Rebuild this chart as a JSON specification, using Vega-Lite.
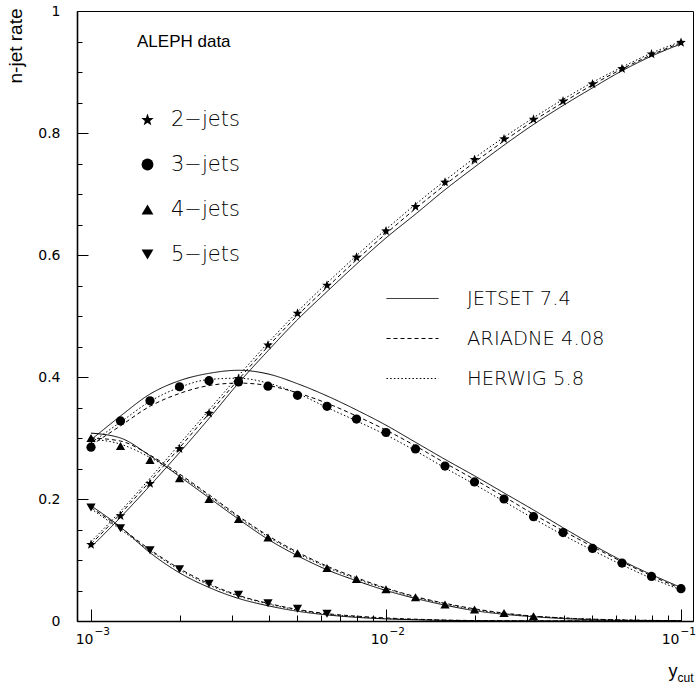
{
  "$schema": "https://vega.github.io/schema/vega-lite/v6.json",
  "width": 616,
  "height": 610,
  "autosize": {"type": "none"},
  "padding": {"left": 77, "top": 11, "right": 5, "bottom": 62},
  "background": "white",
  "config": {
    "view": {"stroke": "black", "strokeWidth": 1},
    "axis": {"grid": false, "domainColor": "black", "domainWidth": 1.6, "tickColor": "black", "tickWidth": 1, "labelColor": "black", "titleColor": "black", "labelOverlap": false},
    "legend": {"padding": 0, "labelColor": "black", "titleColor": "black"}
  },
  "resolve": {"axis": {"x": "independent", "y": "independent"}},
  "datasets": {
    "aleph": [
      {"ycut": 0.001, "rate": 0.126, "jets": "2−jets"},
      {"ycut": 0.0012589, "rate": 0.173, "jets": "2−jets"},
      {"ycut": 0.0015849, "rate": 0.226, "jets": "2−jets"},
      {"ycut": 0.0019953, "rate": 0.283, "jets": "2−jets"},
      {"ycut": 0.0025119, "rate": 0.341, "jets": "2−jets"},
      {"ycut": 0.0031623, "rate": 0.398, "jets": "2−jets"},
      {"ycut": 0.0039811, "rate": 0.453, "jets": "2−jets"},
      {"ycut": 0.0050119, "rate": 0.505, "jets": "2−jets"},
      {"ycut": 0.0063096, "rate": 0.551, "jets": "2−jets"},
      {"ycut": 0.0079433, "rate": 0.597, "jets": "2−jets"},
      {"ycut": 0.01, "rate": 0.640, "jets": "2−jets"},
      {"ycut": 0.012589, "rate": 0.680, "jets": "2−jets"},
      {"ycut": 0.015849, "rate": 0.720, "jets": "2−jets"},
      {"ycut": 0.019953, "rate": 0.757, "jets": "2−jets"},
      {"ycut": 0.025119, "rate": 0.791, "jets": "2−jets"},
      {"ycut": 0.031623, "rate": 0.823, "jets": "2−jets"},
      {"ycut": 0.039811, "rate": 0.853, "jets": "2−jets"},
      {"ycut": 0.050119, "rate": 0.881, "jets": "2−jets"},
      {"ycut": 0.063096, "rate": 0.906, "jets": "2−jets"},
      {"ycut": 0.079433, "rate": 0.930, "jets": "2−jets"},
      {"ycut": 0.1, "rate": 0.949, "jets": "2−jets"},
      {"ycut": 0.001, "rate": 0.285, "jets": "3−jets"},
      {"ycut": 0.0012589, "rate": 0.328, "jets": "3−jets"},
      {"ycut": 0.0015849, "rate": 0.361, "jets": "3−jets"},
      {"ycut": 0.0019953, "rate": 0.384, "jets": "3−jets"},
      {"ycut": 0.0025119, "rate": 0.394, "jets": "3−jets"},
      {"ycut": 0.0031623, "rate": 0.392, "jets": "3−jets"},
      {"ycut": 0.0039811, "rate": 0.385, "jets": "3−jets"},
      {"ycut": 0.0050119, "rate": 0.370, "jets": "3−jets"},
      {"ycut": 0.0063096, "rate": 0.352, "jets": "3−jets"},
      {"ycut": 0.0079433, "rate": 0.331, "jets": "3−jets"},
      {"ycut": 0.01, "rate": 0.309, "jets": "3−jets"},
      {"ycut": 0.012589, "rate": 0.282, "jets": "3−jets"},
      {"ycut": 0.015849, "rate": 0.254, "jets": "3−jets"},
      {"ycut": 0.019953, "rate": 0.228, "jets": "3−jets"},
      {"ycut": 0.025119, "rate": 0.200, "jets": "3−jets"},
      {"ycut": 0.031623, "rate": 0.171, "jets": "3−jets"},
      {"ycut": 0.039811, "rate": 0.145, "jets": "3−jets"},
      {"ycut": 0.050119, "rate": 0.119, "jets": "3−jets"},
      {"ycut": 0.063096, "rate": 0.095, "jets": "3−jets"},
      {"ycut": 0.079433, "rate": 0.073, "jets": "3−jets"},
      {"ycut": 0.1, "rate": 0.053, "jets": "3−jets"},
      {"ycut": 0.001, "rate": 0.300, "jets": "4−jets"},
      {"ycut": 0.0012589, "rate": 0.287, "jets": "4−jets"},
      {"ycut": 0.0015849, "rate": 0.264, "jets": "4−jets"},
      {"ycut": 0.0019953, "rate": 0.234, "jets": "4−jets"},
      {"ycut": 0.0025119, "rate": 0.200, "jets": "4−jets"},
      {"ycut": 0.0031623, "rate": 0.167, "jets": "4−jets"},
      {"ycut": 0.0039811, "rate": 0.137, "jets": "4−jets"},
      {"ycut": 0.0050119, "rate": 0.111, "jets": "4−jets"},
      {"ycut": 0.0063096, "rate": 0.087, "jets": "4−jets"},
      {"ycut": 0.0079433, "rate": 0.069, "jets": "4−jets"},
      {"ycut": 0.01, "rate": 0.052, "jets": "4−jets"},
      {"ycut": 0.012589, "rate": 0.039, "jets": "4−jets"},
      {"ycut": 0.015849, "rate": 0.027, "jets": "4−jets"},
      {"ycut": 0.019953, "rate": 0.019, "jets": "4−jets"},
      {"ycut": 0.025119, "rate": 0.013, "jets": "4−jets"},
      {"ycut": 0.031623, "rate": 0.008, "jets": "4−jets"},
      {"ycut": 0.001, "rate": 0.186, "jets": "5−jets"},
      {"ycut": 0.0012589, "rate": 0.152, "jets": "5−jets"},
      {"ycut": 0.0015849, "rate": 0.116, "jets": "5−jets"},
      {"ycut": 0.0019953, "rate": 0.085, "jets": "5−jets"},
      {"ycut": 0.0025119, "rate": 0.061, "jets": "5−jets"},
      {"ycut": 0.0031623, "rate": 0.043, "jets": "5−jets"},
      {"ycut": 0.0039811, "rate": 0.029, "jets": "5−jets"},
      {"ycut": 0.0050119, "rate": 0.020, "jets": "5−jets"},
      {"ycut": 0.0063096, "rate": 0.012, "jets": "5−jets"}
    ],
    "models": [
      {"ycut": 0.001, "rate": 0.121, "model": "JETSET 7.4", "jets": "2"},
      {"ycut": 0.0012589, "rate": 0.170, "model": "JETSET 7.4", "jets": "2"},
      {"ycut": 0.0015849, "rate": 0.222, "model": "JETSET 7.4", "jets": "2"},
      {"ycut": 0.0019953, "rate": 0.276, "model": "JETSET 7.4", "jets": "2"},
      {"ycut": 0.0025119, "rate": 0.332, "model": "JETSET 7.4", "jets": "2"},
      {"ycut": 0.0031623, "rate": 0.390, "model": "JETSET 7.4", "jets": "2"},
      {"ycut": 0.0039811, "rate": 0.443, "model": "JETSET 7.4", "jets": "2"},
      {"ycut": 0.0050119, "rate": 0.494, "model": "JETSET 7.4", "jets": "2"},
      {"ycut": 0.0063096, "rate": 0.540, "model": "JETSET 7.4", "jets": "2"},
      {"ycut": 0.0079433, "rate": 0.585, "model": "JETSET 7.4", "jets": "2"},
      {"ycut": 0.01, "rate": 0.628, "model": "JETSET 7.4", "jets": "2"},
      {"ycut": 0.012589, "rate": 0.667, "model": "JETSET 7.4", "jets": "2"},
      {"ycut": 0.015849, "rate": 0.707, "model": "JETSET 7.4", "jets": "2"},
      {"ycut": 0.019953, "rate": 0.744, "model": "JETSET 7.4", "jets": "2"},
      {"ycut": 0.025119, "rate": 0.780, "model": "JETSET 7.4", "jets": "2"},
      {"ycut": 0.031623, "rate": 0.814, "model": "JETSET 7.4", "jets": "2"},
      {"ycut": 0.039811, "rate": 0.845, "model": "JETSET 7.4", "jets": "2"},
      {"ycut": 0.050119, "rate": 0.874, "model": "JETSET 7.4", "jets": "2"},
      {"ycut": 0.063096, "rate": 0.902, "model": "JETSET 7.4", "jets": "2"},
      {"ycut": 0.079433, "rate": 0.926, "model": "JETSET 7.4", "jets": "2"},
      {"ycut": 0.1, "rate": 0.946, "model": "JETSET 7.4", "jets": "2"},
      {"ycut": 0.001, "rate": 0.297, "model": "JETSET 7.4", "jets": "3"},
      {"ycut": 0.0012589, "rate": 0.336, "model": "JETSET 7.4", "jets": "3"},
      {"ycut": 0.0015849, "rate": 0.372, "model": "JETSET 7.4", "jets": "3"},
      {"ycut": 0.0019953, "rate": 0.394, "model": "JETSET 7.4", "jets": "3"},
      {"ycut": 0.0025119, "rate": 0.406, "model": "JETSET 7.4", "jets": "3"},
      {"ycut": 0.0031623, "rate": 0.411, "model": "JETSET 7.4", "jets": "3"},
      {"ycut": 0.0039811, "rate": 0.405, "model": "JETSET 7.4", "jets": "3"},
      {"ycut": 0.0050119, "rate": 0.389, "model": "JETSET 7.4", "jets": "3"},
      {"ycut": 0.0063096, "rate": 0.369, "model": "JETSET 7.4", "jets": "3"},
      {"ycut": 0.0079433, "rate": 0.346, "model": "JETSET 7.4", "jets": "3"},
      {"ycut": 0.01, "rate": 0.321, "model": "JETSET 7.4", "jets": "3"},
      {"ycut": 0.012589, "rate": 0.293, "model": "JETSET 7.4", "jets": "3"},
      {"ycut": 0.015849, "rate": 0.265, "model": "JETSET 7.4", "jets": "3"},
      {"ycut": 0.019953, "rate": 0.238, "model": "JETSET 7.4", "jets": "3"},
      {"ycut": 0.025119, "rate": 0.210, "model": "JETSET 7.4", "jets": "3"},
      {"ycut": 0.031623, "rate": 0.182, "model": "JETSET 7.4", "jets": "3"},
      {"ycut": 0.039811, "rate": 0.153, "model": "JETSET 7.4", "jets": "3"},
      {"ycut": 0.050119, "rate": 0.125, "model": "JETSET 7.4", "jets": "3"},
      {"ycut": 0.063096, "rate": 0.099, "model": "JETSET 7.4", "jets": "3"},
      {"ycut": 0.079433, "rate": 0.076, "model": "JETSET 7.4", "jets": "3"},
      {"ycut": 0.1, "rate": 0.055, "model": "JETSET 7.4", "jets": "3"},
      {"ycut": 0.001, "rate": 0.308, "model": "JETSET 7.4", "jets": "4"},
      {"ycut": 0.0012589, "rate": 0.300, "model": "JETSET 7.4", "jets": "4"},
      {"ycut": 0.0015849, "rate": 0.271, "model": "JETSET 7.4", "jets": "4"},
      {"ycut": 0.0019953, "rate": 0.237, "model": "JETSET 7.4", "jets": "4"},
      {"ycut": 0.0025119, "rate": 0.202, "model": "JETSET 7.4", "jets": "4"},
      {"ycut": 0.0031623, "rate": 0.167, "model": "JETSET 7.4", "jets": "4"},
      {"ycut": 0.0039811, "rate": 0.134, "model": "JETSET 7.4", "jets": "4"},
      {"ycut": 0.0050119, "rate": 0.107, "model": "JETSET 7.4", "jets": "4"},
      {"ycut": 0.0063096, "rate": 0.084, "model": "JETSET 7.4", "jets": "4"},
      {"ycut": 0.0079433, "rate": 0.066, "model": "JETSET 7.4", "jets": "4"},
      {"ycut": 0.01, "rate": 0.050, "model": "JETSET 7.4", "jets": "4"},
      {"ycut": 0.012589, "rate": 0.037, "model": "JETSET 7.4", "jets": "4"},
      {"ycut": 0.015849, "rate": 0.026, "model": "JETSET 7.4", "jets": "4"},
      {"ycut": 0.019953, "rate": 0.017, "model": "JETSET 7.4", "jets": "4"},
      {"ycut": 0.025119, "rate": 0.011, "model": "JETSET 7.4", "jets": "4"},
      {"ycut": 0.031623, "rate": 0.007, "model": "JETSET 7.4", "jets": "4"},
      {"ycut": 0.039811, "rate": 0.004, "model": "JETSET 7.4", "jets": "4"},
      {"ycut": 0.050119, "rate": 0.002, "model": "JETSET 7.4", "jets": "4"},
      {"ycut": 0.063096, "rate": 0.001, "model": "JETSET 7.4", "jets": "4"},
      {"ycut": 0.079433, "rate": 0.0005, "model": "JETSET 7.4", "jets": "4"},
      {"ycut": 0.1, "rate": 0.0002, "model": "JETSET 7.4", "jets": "4"},
      {"ycut": 0.001, "rate": 0.189, "model": "JETSET 7.4", "jets": "5"},
      {"ycut": 0.0012589, "rate": 0.154, "model": "JETSET 7.4", "jets": "5"},
      {"ycut": 0.0015849, "rate": 0.112, "model": "JETSET 7.4", "jets": "5"},
      {"ycut": 0.0019953, "rate": 0.079, "model": "JETSET 7.4", "jets": "5"},
      {"ycut": 0.0025119, "rate": 0.055, "model": "JETSET 7.4", "jets": "5"},
      {"ycut": 0.0031623, "rate": 0.037, "model": "JETSET 7.4", "jets": "5"},
      {"ycut": 0.0039811, "rate": 0.025, "model": "JETSET 7.4", "jets": "5"},
      {"ycut": 0.0050119, "rate": 0.016, "model": "JETSET 7.4", "jets": "5"},
      {"ycut": 0.0063096, "rate": 0.010, "model": "JETSET 7.4", "jets": "5"},
      {"ycut": 0.0079433, "rate": 0.006, "model": "JETSET 7.4", "jets": "5"},
      {"ycut": 0.01, "rate": 0.0035, "model": "JETSET 7.4", "jets": "5"},
      {"ycut": 0.012589, "rate": 0.002, "model": "JETSET 7.4", "jets": "5"},
      {"ycut": 0.015849, "rate": 0.001, "model": "JETSET 7.4", "jets": "5"},
      {"ycut": 0.019953, "rate": 0.0005, "model": "JETSET 7.4", "jets": "5"},
      {"ycut": 0.025119, "rate": 0.0002, "model": "JETSET 7.4", "jets": "5"},
      {"ycut": 0.031623, "rate": 0.0001, "model": "JETSET 7.4", "jets": "5"},
      {"ycut": 0.039811, "rate": 0, "model": "JETSET 7.4", "jets": "5"},
      {"ycut": 0.050119, "rate": 0, "model": "JETSET 7.4", "jets": "5"},
      {"ycut": 0.063096, "rate": 0, "model": "JETSET 7.4", "jets": "5"},
      {"ycut": 0.079433, "rate": 0, "model": "JETSET 7.4", "jets": "5"},
      {"ycut": 0.1, "rate": 0, "model": "JETSET 7.4", "jets": "5"},
      {"ycut": 0.001, "rate": 0.126, "model": "ARIADNE 4.08", "jets": "2"},
      {"ycut": 0.0012589, "rate": 0.176, "model": "ARIADNE 4.08", "jets": "2"},
      {"ycut": 0.0015849, "rate": 0.229, "model": "ARIADNE 4.08", "jets": "2"},
      {"ycut": 0.0019953, "rate": 0.284, "model": "ARIADNE 4.08", "jets": "2"},
      {"ycut": 0.0025119, "rate": 0.340, "model": "ARIADNE 4.08", "jets": "2"},
      {"ycut": 0.0031623, "rate": 0.396, "model": "ARIADNE 4.08", "jets": "2"},
      {"ycut": 0.0039811, "rate": 0.450, "model": "ARIADNE 4.08", "jets": "2"},
      {"ycut": 0.0050119, "rate": 0.501, "model": "ARIADNE 4.08", "jets": "2"},
      {"ycut": 0.0063096, "rate": 0.547, "model": "ARIADNE 4.08", "jets": "2"},
      {"ycut": 0.0079433, "rate": 0.592, "model": "ARIADNE 4.08", "jets": "2"},
      {"ycut": 0.01, "rate": 0.635, "model": "ARIADNE 4.08", "jets": "2"},
      {"ycut": 0.012589, "rate": 0.676, "model": "ARIADNE 4.08", "jets": "2"},
      {"ycut": 0.015849, "rate": 0.715, "model": "ARIADNE 4.08", "jets": "2"},
      {"ycut": 0.019953, "rate": 0.752, "model": "ARIADNE 4.08", "jets": "2"},
      {"ycut": 0.025119, "rate": 0.787, "model": "ARIADNE 4.08", "jets": "2"},
      {"ycut": 0.031623, "rate": 0.820, "model": "ARIADNE 4.08", "jets": "2"},
      {"ycut": 0.039811, "rate": 0.850, "model": "ARIADNE 4.08", "jets": "2"},
      {"ycut": 0.050119, "rate": 0.879, "model": "ARIADNE 4.08", "jets": "2"},
      {"ycut": 0.063096, "rate": 0.905, "model": "ARIADNE 4.08", "jets": "2"},
      {"ycut": 0.079433, "rate": 0.928, "model": "ARIADNE 4.08", "jets": "2"},
      {"ycut": 0.1, "rate": 0.948, "model": "ARIADNE 4.08", "jets": "2"},
      {"ycut": 0.001, "rate": 0.288, "model": "ARIADNE 4.08", "jets": "3"},
      {"ycut": 0.0012589, "rate": 0.320, "model": "ARIADNE 4.08", "jets": "3"},
      {"ycut": 0.0015849, "rate": 0.352, "model": "ARIADNE 4.08", "jets": "3"},
      {"ycut": 0.0019953, "rate": 0.373, "model": "ARIADNE 4.08", "jets": "3"},
      {"ycut": 0.0025119, "rate": 0.386, "model": "ARIADNE 4.08", "jets": "3"},
      {"ycut": 0.0031623, "rate": 0.390, "model": "ARIADNE 4.08", "jets": "3"},
      {"ycut": 0.0039811, "rate": 0.386, "model": "ARIADNE 4.08", "jets": "3"},
      {"ycut": 0.0050119, "rate": 0.374, "model": "ARIADNE 4.08", "jets": "3"},
      {"ycut": 0.0063096, "rate": 0.357, "model": "ARIADNE 4.08", "jets": "3"},
      {"ycut": 0.0079433, "rate": 0.336, "model": "ARIADNE 4.08", "jets": "3"},
      {"ycut": 0.01, "rate": 0.313, "model": "ARIADNE 4.08", "jets": "3"},
      {"ycut": 0.012589, "rate": 0.287, "model": "ARIADNE 4.08", "jets": "3"},
      {"ycut": 0.015849, "rate": 0.259, "model": "ARIADNE 4.08", "jets": "3"},
      {"ycut": 0.019953, "rate": 0.232, "model": "ARIADNE 4.08", "jets": "3"},
      {"ycut": 0.025119, "rate": 0.204, "model": "ARIADNE 4.08", "jets": "3"},
      {"ycut": 0.031623, "rate": 0.175, "model": "ARIADNE 4.08", "jets": "3"},
      {"ycut": 0.039811, "rate": 0.148, "model": "ARIADNE 4.08", "jets": "3"},
      {"ycut": 0.050119, "rate": 0.122, "model": "ARIADNE 4.08", "jets": "3"},
      {"ycut": 0.063096, "rate": 0.097, "model": "ARIADNE 4.08", "jets": "3"},
      {"ycut": 0.079433, "rate": 0.074, "model": "ARIADNE 4.08", "jets": "3"},
      {"ycut": 0.1, "rate": 0.053, "model": "ARIADNE 4.08", "jets": "3"},
      {"ycut": 0.001, "rate": 0.300, "model": "ARIADNE 4.08", "jets": "4"},
      {"ycut": 0.0012589, "rate": 0.295, "model": "ARIADNE 4.08", "jets": "4"},
      {"ycut": 0.0015849, "rate": 0.272, "model": "ARIADNE 4.08", "jets": "4"},
      {"ycut": 0.0019953, "rate": 0.241, "model": "ARIADNE 4.08", "jets": "4"},
      {"ycut": 0.0025119, "rate": 0.207, "model": "ARIADNE 4.08", "jets": "4"},
      {"ycut": 0.0031623, "rate": 0.172, "model": "ARIADNE 4.08", "jets": "4"},
      {"ycut": 0.0039811, "rate": 0.140, "model": "ARIADNE 4.08", "jets": "4"},
      {"ycut": 0.0050119, "rate": 0.113, "model": "ARIADNE 4.08", "jets": "4"},
      {"ycut": 0.0063096, "rate": 0.090, "model": "ARIADNE 4.08", "jets": "4"},
      {"ycut": 0.0079433, "rate": 0.071, "model": "ARIADNE 4.08", "jets": "4"},
      {"ycut": 0.01, "rate": 0.054, "model": "ARIADNE 4.08", "jets": "4"},
      {"ycut": 0.012589, "rate": 0.040, "model": "ARIADNE 4.08", "jets": "4"},
      {"ycut": 0.015849, "rate": 0.029, "model": "ARIADNE 4.08", "jets": "4"},
      {"ycut": 0.019953, "rate": 0.020, "model": "ARIADNE 4.08", "jets": "4"},
      {"ycut": 0.025119, "rate": 0.013, "model": "ARIADNE 4.08", "jets": "4"},
      {"ycut": 0.031623, "rate": 0.008, "model": "ARIADNE 4.08", "jets": "4"},
      {"ycut": 0.039811, "rate": 0.005, "model": "ARIADNE 4.08", "jets": "4"},
      {"ycut": 0.050119, "rate": 0.003, "model": "ARIADNE 4.08", "jets": "4"},
      {"ycut": 0.063096, "rate": 0.0018, "model": "ARIADNE 4.08", "jets": "4"},
      {"ycut": 0.079433, "rate": 0.001, "model": "ARIADNE 4.08", "jets": "4"},
      {"ycut": 0.1, "rate": 0.0005, "model": "ARIADNE 4.08", "jets": "4"},
      {"ycut": 0.001, "rate": 0.186, "model": "ARIADNE 4.08", "jets": "5"},
      {"ycut": 0.0012589, "rate": 0.153, "model": "ARIADNE 4.08", "jets": "5"},
      {"ycut": 0.0015849, "rate": 0.117, "model": "ARIADNE 4.08", "jets": "5"},
      {"ycut": 0.0019953, "rate": 0.086, "model": "ARIADNE 4.08", "jets": "5"},
      {"ycut": 0.0025119, "rate": 0.061, "model": "ARIADNE 4.08", "jets": "5"},
      {"ycut": 0.0031623, "rate": 0.042, "model": "ARIADNE 4.08", "jets": "5"},
      {"ycut": 0.0039811, "rate": 0.029, "model": "ARIADNE 4.08", "jets": "5"},
      {"ycut": 0.0050119, "rate": 0.019, "model": "ARIADNE 4.08", "jets": "5"},
      {"ycut": 0.0063096, "rate": 0.012, "model": "ARIADNE 4.08", "jets": "5"},
      {"ycut": 0.0079433, "rate": 0.008, "model": "ARIADNE 4.08", "jets": "5"},
      {"ycut": 0.01, "rate": 0.005, "model": "ARIADNE 4.08", "jets": "5"},
      {"ycut": 0.012589, "rate": 0.003, "model": "ARIADNE 4.08", "jets": "5"},
      {"ycut": 0.015849, "rate": 0.0015, "model": "ARIADNE 4.08", "jets": "5"},
      {"ycut": 0.019953, "rate": 0.0008, "model": "ARIADNE 4.08", "jets": "5"},
      {"ycut": 0.025119, "rate": 0.0004, "model": "ARIADNE 4.08", "jets": "5"},
      {"ycut": 0.031623, "rate": 0.0002, "model": "ARIADNE 4.08", "jets": "5"},
      {"ycut": 0.039811, "rate": 0.0001, "model": "ARIADNE 4.08", "jets": "5"},
      {"ycut": 0.050119, "rate": 0, "model": "ARIADNE 4.08", "jets": "5"},
      {"ycut": 0.063096, "rate": 0, "model": "ARIADNE 4.08", "jets": "5"},
      {"ycut": 0.079433, "rate": 0, "model": "ARIADNE 4.08", "jets": "5"},
      {"ycut": 0.1, "rate": 0, "model": "ARIADNE 4.08", "jets": "5"},
      {"ycut": 0.001, "rate": 0.130, "model": "HERWIG 5.8", "jets": "2"},
      {"ycut": 0.0012589, "rate": 0.180, "model": "HERWIG 5.8", "jets": "2"},
      {"ycut": 0.0015849, "rate": 0.234, "model": "HERWIG 5.8", "jets": "2"},
      {"ycut": 0.0019953, "rate": 0.290, "model": "HERWIG 5.8", "jets": "2"},
      {"ycut": 0.0025119, "rate": 0.346, "model": "HERWIG 5.8", "jets": "2"},
      {"ycut": 0.0031623, "rate": 0.402, "model": "HERWIG 5.8", "jets": "2"},
      {"ycut": 0.0039811, "rate": 0.456, "model": "HERWIG 5.8", "jets": "2"},
      {"ycut": 0.0050119, "rate": 0.507, "model": "HERWIG 5.8", "jets": "2"},
      {"ycut": 0.0063096, "rate": 0.554, "model": "HERWIG 5.8", "jets": "2"},
      {"ycut": 0.0079433, "rate": 0.599, "model": "HERWIG 5.8", "jets": "2"},
      {"ycut": 0.01, "rate": 0.642, "model": "HERWIG 5.8", "jets": "2"},
      {"ycut": 0.012589, "rate": 0.683, "model": "HERWIG 5.8", "jets": "2"},
      {"ycut": 0.015849, "rate": 0.722, "model": "HERWIG 5.8", "jets": "2"},
      {"ycut": 0.019953, "rate": 0.759, "model": "HERWIG 5.8", "jets": "2"},
      {"ycut": 0.025119, "rate": 0.793, "model": "HERWIG 5.8", "jets": "2"},
      {"ycut": 0.031623, "rate": 0.825, "model": "HERWIG 5.8", "jets": "2"},
      {"ycut": 0.039811, "rate": 0.855, "model": "HERWIG 5.8", "jets": "2"},
      {"ycut": 0.050119, "rate": 0.883, "model": "HERWIG 5.8", "jets": "2"},
      {"ycut": 0.063096, "rate": 0.908, "model": "HERWIG 5.8", "jets": "2"},
      {"ycut": 0.079433, "rate": 0.931, "model": "HERWIG 5.8", "jets": "2"},
      {"ycut": 0.1, "rate": 0.950, "model": "HERWIG 5.8", "jets": "2"},
      {"ycut": 0.001, "rate": 0.292, "model": "HERWIG 5.8", "jets": "3"},
      {"ycut": 0.0012589, "rate": 0.326, "model": "HERWIG 5.8", "jets": "3"},
      {"ycut": 0.0015849, "rate": 0.360, "model": "HERWIG 5.8", "jets": "3"},
      {"ycut": 0.0019953, "rate": 0.383, "model": "HERWIG 5.8", "jets": "3"},
      {"ycut": 0.0025119, "rate": 0.396, "model": "HERWIG 5.8", "jets": "3"},
      {"ycut": 0.0031623, "rate": 0.398, "model": "HERWIG 5.8", "jets": "3"},
      {"ycut": 0.0039811, "rate": 0.390, "model": "HERWIG 5.8", "jets": "3"},
      {"ycut": 0.0050119, "rate": 0.373, "model": "HERWIG 5.8", "jets": "3"},
      {"ycut": 0.0063096, "rate": 0.350, "model": "HERWIG 5.8", "jets": "3"},
      {"ycut": 0.0079433, "rate": 0.328, "model": "HERWIG 5.8", "jets": "3"},
      {"ycut": 0.01, "rate": 0.305, "model": "HERWIG 5.8", "jets": "3"},
      {"ycut": 0.012589, "rate": 0.279, "model": "HERWIG 5.8", "jets": "3"},
      {"ycut": 0.015849, "rate": 0.251, "model": "HERWIG 5.8", "jets": "3"},
      {"ycut": 0.019953, "rate": 0.224, "model": "HERWIG 5.8", "jets": "3"},
      {"ycut": 0.025119, "rate": 0.196, "model": "HERWIG 5.8", "jets": "3"},
      {"ycut": 0.031623, "rate": 0.168, "model": "HERWIG 5.8", "jets": "3"},
      {"ycut": 0.039811, "rate": 0.141, "model": "HERWIG 5.8", "jets": "3"},
      {"ycut": 0.050119, "rate": 0.116, "model": "HERWIG 5.8", "jets": "3"},
      {"ycut": 0.063096, "rate": 0.092, "model": "HERWIG 5.8", "jets": "3"},
      {"ycut": 0.079433, "rate": 0.070, "model": "HERWIG 5.8", "jets": "3"},
      {"ycut": 0.1, "rate": 0.051, "model": "HERWIG 5.8", "jets": "3"},
      {"ycut": 0.001, "rate": 0.298, "model": "HERWIG 5.8", "jets": "4"},
      {"ycut": 0.0012589, "rate": 0.290, "model": "HERWIG 5.8", "jets": "4"},
      {"ycut": 0.0015849, "rate": 0.268, "model": "HERWIG 5.8", "jets": "4"},
      {"ycut": 0.0019953, "rate": 0.239, "model": "HERWIG 5.8", "jets": "4"},
      {"ycut": 0.0025119, "rate": 0.205, "model": "HERWIG 5.8", "jets": "4"},
      {"ycut": 0.0031623, "rate": 0.170, "model": "HERWIG 5.8", "jets": "4"},
      {"ycut": 0.0039811, "rate": 0.138, "model": "HERWIG 5.8", "jets": "4"},
      {"ycut": 0.0050119, "rate": 0.111, "model": "HERWIG 5.8", "jets": "4"},
      {"ycut": 0.0063096, "rate": 0.088, "model": "HERWIG 5.8", "jets": "4"},
      {"ycut": 0.0079433, "rate": 0.069, "model": "HERWIG 5.8", "jets": "4"},
      {"ycut": 0.01, "rate": 0.053, "model": "HERWIG 5.8", "jets": "4"},
      {"ycut": 0.012589, "rate": 0.039, "model": "HERWIG 5.8", "jets": "4"},
      {"ycut": 0.015849, "rate": 0.028, "model": "HERWIG 5.8", "jets": "4"},
      {"ycut": 0.019953, "rate": 0.019, "model": "HERWIG 5.8", "jets": "4"},
      {"ycut": 0.025119, "rate": 0.012, "model": "HERWIG 5.8", "jets": "4"},
      {"ycut": 0.031623, "rate": 0.008, "model": "HERWIG 5.8", "jets": "4"},
      {"ycut": 0.039811, "rate": 0.005, "model": "HERWIG 5.8", "jets": "4"},
      {"ycut": 0.050119, "rate": 0.003, "model": "HERWIG 5.8", "jets": "4"},
      {"ycut": 0.063096, "rate": 0.0018, "model": "HERWIG 5.8", "jets": "4"},
      {"ycut": 0.079433, "rate": 0.001, "model": "HERWIG 5.8", "jets": "4"},
      {"ycut": 0.1, "rate": 0.0005, "model": "HERWIG 5.8", "jets": "4"},
      {"ycut": 0.001, "rate": 0.184, "model": "HERWIG 5.8", "jets": "5"},
      {"ycut": 0.0012589, "rate": 0.150, "model": "HERWIG 5.8", "jets": "5"},
      {"ycut": 0.0015849, "rate": 0.115, "model": "HERWIG 5.8", "jets": "5"},
      {"ycut": 0.0019953, "rate": 0.084, "model": "HERWIG 5.8", "jets": "5"},
      {"ycut": 0.0025119, "rate": 0.059, "model": "HERWIG 5.8", "jets": "5"},
      {"ycut": 0.0031623, "rate": 0.041, "model": "HERWIG 5.8", "jets": "5"},
      {"ycut": 0.0039811, "rate": 0.028, "model": "HERWIG 5.8", "jets": "5"},
      {"ycut": 0.0050119, "rate": 0.018, "model": "HERWIG 5.8", "jets": "5"},
      {"ycut": 0.0063096, "rate": 0.011, "model": "HERWIG 5.8", "jets": "5"},
      {"ycut": 0.0079433, "rate": 0.007, "model": "HERWIG 5.8", "jets": "5"},
      {"ycut": 0.01, "rate": 0.004, "model": "HERWIG 5.8", "jets": "5"},
      {"ycut": 0.012589, "rate": 0.0025, "model": "HERWIG 5.8", "jets": "5"},
      {"ycut": 0.015849, "rate": 0.0013, "model": "HERWIG 5.8", "jets": "5"},
      {"ycut": 0.019953, "rate": 0.0007, "model": "HERWIG 5.8", "jets": "5"},
      {"ycut": 0.025119, "rate": 0.0003, "model": "HERWIG 5.8", "jets": "5"},
      {"ycut": 0.031623, "rate": 0.0001, "model": "HERWIG 5.8", "jets": "5"},
      {"ycut": 0.039811, "rate": 0, "model": "HERWIG 5.8", "jets": "5"},
      {"ycut": 0.050119, "rate": 0, "model": "HERWIG 5.8", "jets": "5"},
      {"ycut": 0.063096, "rate": 0, "model": "HERWIG 5.8", "jets": "5"},
      {"ycut": 0.079433, "rate": 0, "model": "HERWIG 5.8", "jets": "5"},
      {"ycut": 0.1, "rate": 0, "model": "HERWIG 5.8", "jets": "5"}
    ]
  },
  "layer": [
    {
      "data": {"name": "models"},
      "mark": {"type": "line", "interpolate": "monotone", "color": "black", "strokeWidth": 1},
      "encoding": {
        "x": {
          "field": "ycut",
          "type": "quantitative",
          "scale": {"type": "log", "domain": [0.0008965, 0.10981]},
          "axis": {
            "orient": "bottom",
            "values": [0.001, 0.01, 0.1],
            "tickSize": -12,
            "labelExpr": "'10'",
            "labelAlign": "right",
            "labelOffset": {"condition": {"test": "datum.value === 0.1", "value": -2}, "value": 2},
            "labelPadding": 23,
            "labelFont": "DejaVu Sans",
            "labelFontSize": 14,
            "labelFlush": false,
            "title": "y",
            "titleFont": "Liberation Sans",
            "titleFontSize": 18,
            "titleFontWeight": "normal",
            "titleX": 600,
            "titleY": 55,
            "titleAlign": "right",
            "titleBaseline": "alphabetic"
          }
        },
        "y": {
          "field": "rate",
          "type": "quantitative",
          "scale": {"domain": [0, 1]},
          "axis": {
            "orient": "left",
            "values": [0, 0.2, 0.4, 0.6, 0.8, 1],
            "tickSize": -11,
            "labelExpr": "format(datum.value, '~g')",
            "labelFont": "DejaVu Sans",
            "labelFontSize": 14,
            "labelPadding": 28,
            "title": "n-jet rate",
            "titleFont": "Liberation Sans",
            "titleFontSize": 19,
            "titleFontWeight": "normal",
            "titleAngle": 270,
            "titleAlign": "right",
            "titleBaseline": "alphabetic",
            "titleX": -56,
            "titleY": -3
          }
        },
        "detail": {"field": "jets"},
        "strokeDash": {
          "field": "model",
          "type": "nominal",
          "scale": {"domain": ["JETSET 7.4", "ARIADNE 4.08", "HERWIG 5.8"], "range": [[1, 0], [4, 3], [1.5, 2.2]]},
          "legend": {
            "orient": "none",
            "legendX": 309,
            "legendY": 261,
            "title": null,
            "symbolType": "stroke",
            "symbolSize": 2704,
            "symbolStrokeWidth": 1,
            "symbolStrokeColor": "black",
            "labelFont": "DejaVu Sans",
            "labelFontSize": 19.5,
            "labelFontWeight": 200,
            "labelOffset": 28,
            "labelLimit": 300,
            "rowPadding": 4
          }
        }
      }
    },
    {
      "data": {"name": "aleph"},
      "mark": {"type": "point", "filled": true, "color": "black", "opacity": 1, "size": 85},
      "encoding": {
        "x": {
          "field": "ycut",
          "type": "quantitative",
          "scale": {"type": "log", "domain": [0.0008965, 0.10981]},
          "axis": {
            "orient": "bottom",
            "values": [0.001, 0.002, 0.003, 0.004, 0.005, 0.006, 0.007, 0.008, 0.009, 0.01, 0.02, 0.03, 0.04, 0.05, 0.06, 0.07, 0.08, 0.09, 0.1],
            "tickSize": -6,
            "domain": false,
            "labelExpr": "datum.value === 0.001 ? '−3' : datum.value === 0.01 ? '−2' : datum.value === 0.1 ? '−1' : ''",
            "labelAlign": "left",
            "labelOffset": {"condition": {"test": "datum.value === 0.1", "value": -1}, "value": 3},
            "labelPadding": 11,
            "labelFont": "DejaVu Sans",
            "labelFontSize": 10.5,
            "labelFlush": false,
            "title": "cut",
            "titleFont": "Liberation Sans",
            "titleFontSize": 12,
            "titleFontWeight": "normal",
            "titleX": 600,
            "titleY": 60,
            "titleAlign": "left",
            "titleBaseline": "alphabetic"
          }
        },
        "y": {
          "field": "rate",
          "type": "quantitative",
          "scale": {"domain": [0, 1]},
          "axis": {
            "orient": "left",
            "values": [0.05, 0.1, 0.15, 0.25, 0.3, 0.35, 0.45, 0.5, 0.55, 0.65, 0.7, 0.75, 0.85, 0.9, 0.95],
            "tickSize": -5,
            "domain": false,
            "labels": false,
            "title": null
          }
        },
        "shape": {
          "field": "jets",
          "type": "nominal",
          "scale": {
            "domain": ["2−jets", "3−jets", "4−jets", "5−jets"],
            "range": ["M0,-1L0.27,-0.272L1.046,-0.24L0.437,0.242L0.647,0.99L0,0.56L-0.647,0.99L-0.437,0.242L-1.046,-0.24L-0.27,-0.272Z", "circle", "triangle-up", "triangle-down"]
          },
          "legend": {
            "orient": "none",
            "legendX": 60,
            "legendY": 23,
            "title": "ALEPH data",
            "titleFont": "Liberation Sans",
            "titleFontSize": 17,
            "titleFontWeight": "normal",
            "titlePadding": 58,
            "symbolSize": 140,
            "symbolFillColor": "black",
            "symbolStrokeColor": "black",
            "symbolStrokeWidth": 0,
            "symbolOpacity": 1,
            "labelFont": "DejaVu Sans",
            "labelFontSize": 21,
            "labelFontWeight": 200,
            "labelOffset": 13,
            "rowPadding": 23
          }
        }
      }
    }
  ]
}
